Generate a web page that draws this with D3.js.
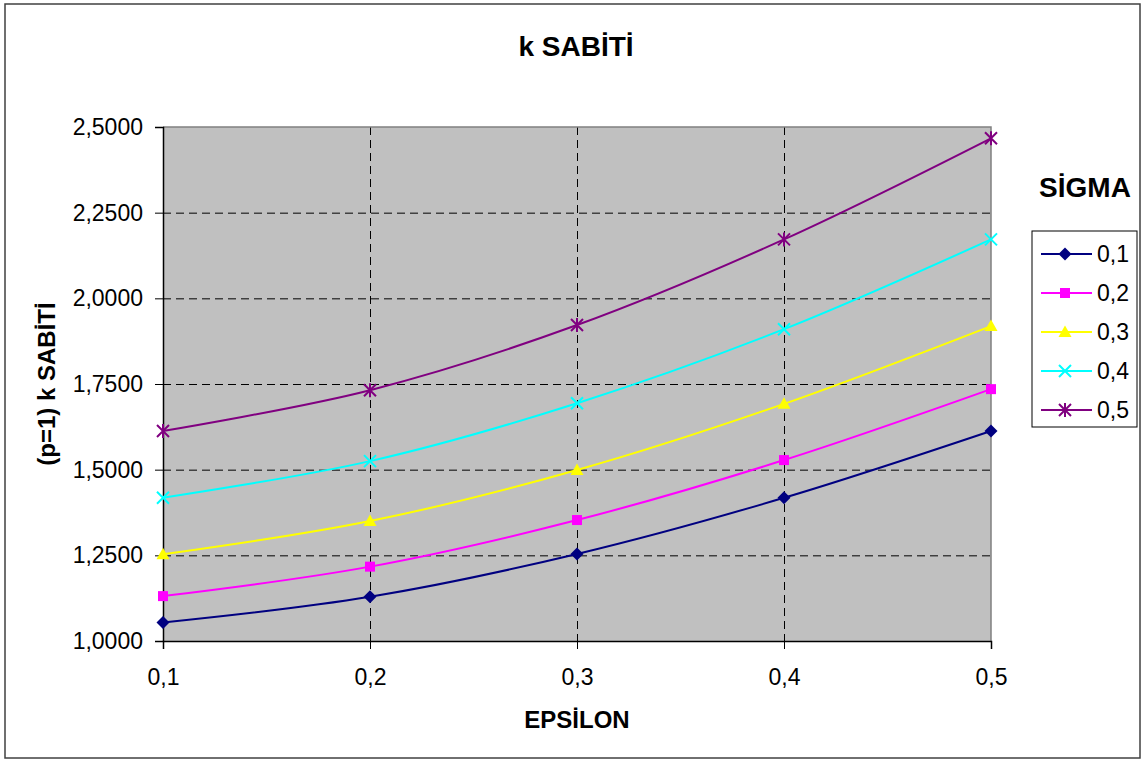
<!DOCTYPE html>
<html>
<head>
<meta charset="utf-8">
<script src="https://cdn.jsdelivr.net/npm/d3@7"></script>
<style>
  html, body { margin: 0; padding: 0; background: #fff; }
  svg { display: block; font-family: Arial, "Liberation Sans", sans-serif; }
</style>
</head>
<body>
<svg id="chart" width="1143" height="762"></svg>
<script>
// EPSILON values on the x axis
const epsilon = [0.1, 0.2, 0.3, 0.4, 0.5];

// SIGMA series names
const sigmaNames = ["0,1", "0,2", "0,3", "0,4", "0,5"];

// k constant (p=1) for each sigma, per epsilon
const k_s01 = [1.054, 1.129, 1.254, 1.418, 1.613];
const k_s02 = [1.131, 1.217, 1.353, 1.528, 1.735];
const k_s03 = [1.253, 1.350, 1.499, 1.692, 1.919];
const k_s04 = [1.418, 1.525, 1.694, 1.910, 2.172];
const k_s05 = [1.613, 1.732, 1.922, 2.172, 2.467];

const yTicks = [1.0, 1.25, 1.5, 1.75, 2.0, 2.25, 2.5];

const seriesColors = ["#000080", "#ff00ff", "#ffff00", "#00ffff", "#800080"];
const markerKinds = ["diamond", "square", "triangle", "cross", "star"];

const series = [k_s01, k_s02, k_s03, k_s04, k_s05].map((vals, i) => ({
  name: sigmaNames[i],
  color: seriesColors[i],
  marker: markerKinds[i],
  points: vals.map((v, j) => ({ x: epsilon[j], y: v }))
}));

const svg = d3.select("#chart");
const fmtComma = (d, digits) => d.toFixed(digits).replace(".", ",");

// outer chart frame
svg.append("rect")
  .attr("x", 5).attr("y", 4).attr("width", 1135).attr("height", 754)
  .attr("fill", "#fff").attr("stroke", "#404040").attr("stroke-width", 1.5);

const plot = { left: 163, right: 991, top: 127, bottom: 641 };

const x = d3.scaleLinear().domain([0.1, 0.5]).range([plot.left, plot.right]);
const y = d3.scaleLinear().domain([1.0, 2.5]).range([plot.bottom, plot.top]);

// plot area background
svg.append("rect")
  .attr("x", plot.left).attr("y", plot.top)
  .attr("width", plot.right - plot.left).attr("height", plot.bottom - plot.top)
  .attr("fill", "#c0c0c0");

// dashed grid
const grid = svg.append("g").attr("stroke", "#000").attr("stroke-width", 1)
  .attr("stroke-dasharray", "8,5");
grid.selectAll("line.h").data(yTicks.filter(t => t > 1.0 && t < 2.5)).join("line")
  .attr("class", "h")
  .attr("x1", plot.left).attr("x2", plot.right)
  .attr("y1", d => y(d) + 0.5).attr("y2", d => y(d) + 0.5);
grid.selectAll("line.v").data(epsilon.filter(e => e > 0.1 && e < 0.5)).join("line")
  .attr("class", "v")
  .attr("y1", plot.top).attr("y2", plot.bottom)
  .attr("x1", d => x(d) + 0.5).attr("x2", d => x(d) + 0.5);

// top and right border of plot area
svg.append("path")
  .attr("d", `M${plot.left},${plot.top}H${plot.right}V${plot.bottom}`)
  .attr("fill", "none").attr("stroke", "#808080").attr("stroke-width", 1.5);

// axes
const yAxis = d3.axisLeft(y).tickValues(yTicks).tickSize(8).tickPadding(12)
  .tickFormat(d => fmtComma(d, 4));
const xAxis = d3.axisBottom(x).tickValues(epsilon).tickSize(8).tickPadding(20)
  .tickFormat(d => fmtComma(d, 1));

const gy = svg.append("g").attr("transform", `translate(${plot.left},0)`).call(yAxis);
const gx = svg.append("g").attr("transform", `translate(0,${plot.bottom})`).call(xAxis);
[gx, gy].forEach(g => {
  g.select(".domain").attr("stroke", "#000").attr("stroke-width", 1.5);
  g.selectAll(".tick line").attr("stroke", "#000").attr("stroke-width", 1);
  g.selectAll(".tick text").attr("fill", "#000")
    .style("font-size", "23px").style("font-family", "Arial, 'Liberation Sans', sans-serif");
});

// markers
function drawMarker(sel, kind, color) {
  if (kind === "diamond") {
    sel.append("path").attr("d", "M0,-6.5L6.5,0L0,6.5L-6.5,0Z").attr("fill", color);
  } else if (kind === "square") {
    sel.append("rect").attr("x", -5).attr("y", -5).attr("width", 10).attr("height", 10).attr("fill", color);
  } else if (kind === "triangle") {
    sel.append("path").attr("d", "M0,-6.5L6.5,5L-6.5,5Z").attr("fill", color);
  } else if (kind === "cross") {
    sel.append("path").attr("d", "M-6,-6L6,6M-6,6L6,-6")
      .attr("stroke", color).attr("stroke-width", 2).attr("fill", "none");
  } else if (kind === "star") {
    sel.append("path").attr("d", "M-6,-6L6,6M-6,6L6,-6M0,-7L0,7")
      .attr("stroke", color).attr("stroke-width", 2).attr("fill", "none");
  }
}

const line = d3.line().x(d => x(d.x)).y(d => y(d.y)).curve(d3.curveCatmullRom.alpha(0));

const gs = svg.append("g").selectAll("g").data(series).join("g");
gs.append("path")
  .attr("d", d => line(d.points))
  .attr("fill", "none").attr("stroke", d => d.color).attr("stroke-width", 2);
gs.each(function (s) {
  d3.select(this).selectAll("g.m").data(s.points).join("g")
    .attr("class", "m")
    .attr("transform", d => `translate(${x(d.x)},${y(d.y)})`)
    .each(function () { drawMarker(d3.select(this), s.marker, s.color); });
});

// titles
svg.append("text").attr("x", 576).attr("y", 56).attr("text-anchor", "middle")
  .style("font-size", "28px").style("font-weight", "bold").text("k SABİTİ");
svg.append("text").attr("x", 577).attr("y", 728).attr("text-anchor", "middle")
  .style("font-size", "24px").style("font-weight", "bold").text("EPSİLON");
svg.append("text").attr("transform", "translate(55,384) rotate(-90)").attr("text-anchor", "middle")
  .style("font-size", "24px").style("font-weight", "bold").text("(p=1) k SABİTİ");

// legend
svg.append("text").attr("x", 1085).attr("y", 197).attr("text-anchor", "middle")
  .style("font-size", "28px").style("font-weight", "bold").text("SİGMA");
svg.append("rect").attr("x", 1032).attr("y", 231).attr("width", 105).attr("height", 196)
  .attr("fill", "#fff").attr("stroke", "#000").attr("stroke-width", 1);
const leg = svg.append("g").selectAll("g").data(series).join("g")
  .attr("transform", (d, i) => `translate(0,${254 + i * 39})`);
leg.append("line").attr("x1", 1041).attr("x2", 1092)
  .attr("stroke", d => d.color).attr("stroke-width", 2);
leg.each(function (s) {
  const m = d3.select(this).append("g").attr("transform", "translate(1065,0)");
  drawMarker(m, s.marker, s.color);
});
leg.append("text").attr("x", 1097).attr("dy", "0.35em")
  .style("font-size", "23px").text(d => d.name);
</script>
</body>
</html>
